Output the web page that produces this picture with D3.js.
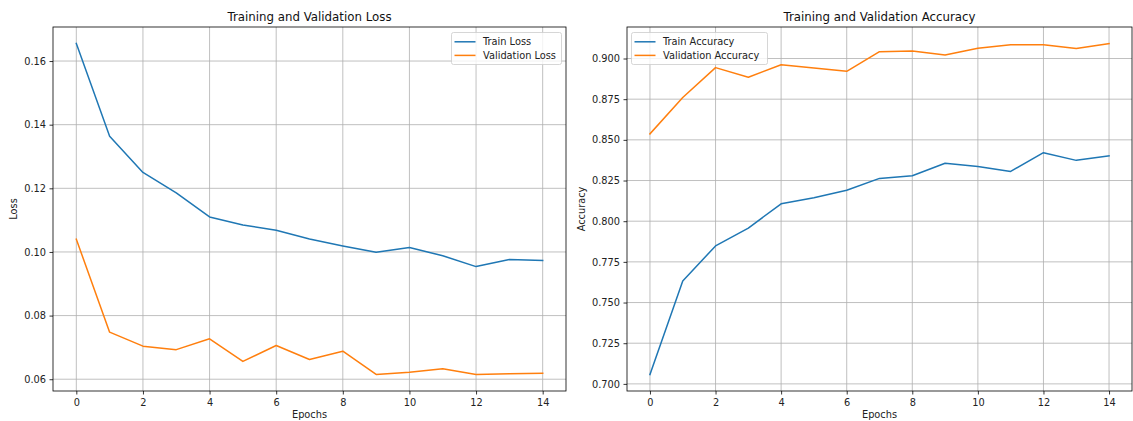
<!DOCTYPE html>
<html>
<head>
<meta charset="utf-8">
<script src="https://cdn.jsdelivr.net/npm/d3@7"></script>
<style>
  html, body { margin: 0; padding: 0; background: #ffffff; }
  svg { display: block; font-family: "DejaVu Sans", sans-serif; }
</style>
</head>
<body>
<svg id="chart" width="1133" height="421"></svg>
<script>
// Per-epoch training history
const epochs = [0, 1, 2, 3, 4, 5, 6, 7, 8, 9, 10, 11, 12, 13, 14];
const trainLoss = [0.1655, 0.1364, 0.1250, 0.1186, 0.1110, 0.1085, 0.1068, 0.1041, 0.1019, 0.0999, 0.1014, 0.0988, 0.0954, 0.0976, 0.0973];
const valLoss = [0.1040, 0.0748, 0.0704, 0.0693, 0.0727, 0.0656, 0.0706, 0.0662, 0.0688, 0.0615, 0.0622, 0.0633, 0.0615, 0.0617, 0.0619];
const trainAcc = [0.7058, 0.7633, 0.7848, 0.7958, 0.8107, 0.8144, 0.8190, 0.8263, 0.8279, 0.8356, 0.8336, 0.8306, 0.8421, 0.8374, 0.8401];
const valAcc = [0.8537, 0.8760, 0.8944, 0.8885, 0.8962, 0.8942, 0.8921, 0.9042, 0.9046, 0.9022, 0.9063, 0.9085, 0.9085, 0.9062, 0.9092];

const xTicks = [0, 2, 4, 6, 8, 10, 12, 14];
const lossTicks = [0.06, 0.08, 0.10, 0.12, 0.14, 0.16];
const accTicks = [0.700, 0.725, 0.750, 0.775, 0.800, 0.825, 0.850, 0.875, 0.900];

const BLUE = "#1f77b4";
const ORANGE = "#ff7f0e";
const FS = 9.8;        // tick / label / legend text
const FS_TITLE = 11.8; // panel titles
const svg = d3.select("#chart");

function padded(values) {
  const lo = d3.min(values), hi = d3.max(values);
  const m = (hi - lo) * 0.05;
  return [lo - m, hi + m];
}

function panel(opts) {
  const { left, right, top, bottom } = opts.box;
  const x = d3.scaleLinear().domain([-0.7, 14.7]).range([left, right]);
  const y = d3.scaleLinear().domain(padded(opts.series.flatMap(s => s.values))).range([bottom, top]);
  const g = svg.append("g");

  // grid
  g.append("g").selectAll("line").data(xTicks).join("line")
    .attr("x1", d => x(d)).attr("x2", d => x(d))
    .attr("y1", top).attr("y2", bottom)
    .attr("stroke", "#b0b0b0").attr("stroke-width", 0.8);
  g.append("g").selectAll("line").data(opts.yTicks).join("line")
    .attr("x1", left).attr("x2", right)
    .attr("y1", d => y(d)).attr("y2", d => y(d))
    .attr("stroke", "#b0b0b0").attr("stroke-width", 0.8);

  // series
  const line = d3.line().x((d, i) => x(epochs[i])).y(d => y(d));
  opts.series.forEach(s => {
    g.append("path").datum(s.values)
      .attr("d", line).attr("fill", "none")
      .attr("stroke", s.color).attr("stroke-width", 1.5)
      .attr("stroke-linejoin", "round").attr("stroke-linecap", "square");
  });

  // axes
  const xAxis = d3.axisBottom(x).tickValues(xTicks).tickSize(3.5).tickPadding(5).tickFormat(d3.format("d"));
  const yAxis = d3.axisLeft(y).tickValues(opts.yTicks).tickSize(3.5).tickPadding(3.5).tickFormat(d3.format(opts.fmt));
  const ax = g.append("g").attr("transform", `translate(0,${bottom})`).call(xAxis);
  const ay = g.append("g").attr("transform", `translate(${left},0)`).call(yAxis);
  [ax, ay].forEach(a => {
    a.select(".domain").remove();
    a.selectAll(".tick line").attr("stroke", "#000").attr("stroke-width", 0.8);
    a.selectAll(".tick text").attr("fill", "#222").attr("font-size", FS).attr("font-family", "DejaVu Sans");
  });

  // frame
  g.append("rect").attr("x", left).attr("y", top)
    .attr("width", right - left).attr("height", bottom - top)
    .attr("fill", "none").attr("stroke", "#000").attr("stroke-width", 0.8);

  // titles
  g.append("text").attr("x", (left + right) / 2).attr("y", top - 6)
    .attr("text-anchor", "middle").attr("font-size", FS_TITLE).attr("fill", "#111")
    .text(opts.title);
  g.append("text").attr("x", (left + right) / 2).attr("y", 418)
    .attr("text-anchor", "middle").attr("font-size", FS).attr("fill", "#222")
    .text("Epochs");
  g.append("text")
    .attr("transform", `translate(${opts.ylabelX},${(top + bottom) / 2}) rotate(-90)`)
    .attr("text-anchor", "middle").attr("dy", "0.35em").attr("font-size", FS).attr("fill", "#222")
    .text(opts.ylabel);

  // legend
  const L = opts.legend;
  const lg = g.append("g").attr("transform", `translate(${L.x},${L.y})`);
  lg.append("rect").attr("x", 0).attr("y", 0).attr("width", L.w).attr("height", 32)
    .attr("rx", 2).attr("fill", "#ffffff").attr("fill-opacity", 0.8)
    .attr("stroke", "#cccccc").attr("stroke-width", 0.8);
  opts.series.forEach((s, i) => {
    const cy = 9.3 + i * 13.6;
    lg.append("line").attr("x1", 3).attr("x2", 24).attr("y1", cy).attr("y2", cy)
      .attr("stroke", s.color).attr("stroke-width", 1.5);
    lg.append("text").attr("x", 31.5).attr("y", cy).attr("dy", "0.35em")
      .attr("font-size", FS).attr("fill", "#222").text(s.label);
  });
}

panel({
  box: { left: 53, right: 566, top: 27, bottom: 391 },
  title: "Training and Validation Loss",
  ylabel: "Loss", ylabelX: 14,
  yTicks: lossTicks, fmt: ".2f",
  series: [
    { label: "Train Loss", values: trainLoss, color: BLUE },
    { label: "Validation Loss", values: valLoss, color: ORANGE }
  ],
  legend: { x: 451.5, y: 32.5, w: 110 }
});

panel({
  box: { left: 627, right: 1132, top: 27, bottom: 391 },
  title: "Training and Validation Accuracy",
  ylabel: "Accuracy", ylabelX: 582,
  yTicks: accTicks, fmt: ".3f",
  series: [
    { label: "Train Accuracy", values: trainAcc, color: BLUE },
    { label: "Validation Accuracy", values: valAcc, color: ORANGE }
  ],
  legend: { x: 631.5, y: 32.5, w: 136 }
});
</script>
</body>
</html>
